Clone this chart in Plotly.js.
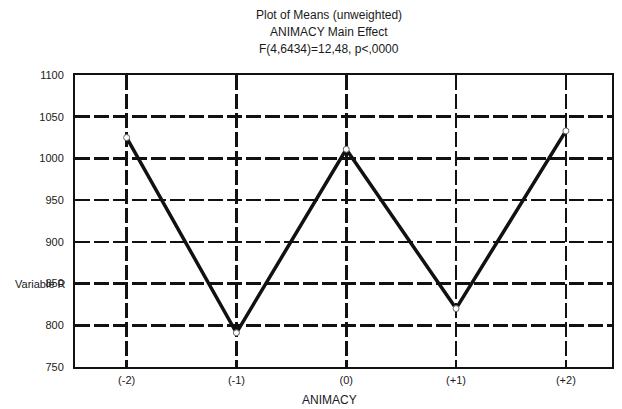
<!DOCTYPE html>
<html>
<head>
<meta charset="utf-8">
<script src="https://cdn.plot.ly/plotly-3.0.1.min.js"></script>
<style>html,body{margin:0;padding:0;background:#fff;}#chart{width:622px;height:409px;}</style>
</head>
<body>
<div id="chart"></div>
<script>
const levels = [-2, -1, 0, 1, 2];
const levelLabels = ["(-2)", "(-1)", "(0)", "(+1)", "(+2)"];
const means = [1025, 791, 1011, 820, 1033];
const yTicks = [750, 800, 850, 900, 950, 1000, 1050, 1100];
const yTickLabels = ["750", "800", "850", "900", "950", "1000", "1050", "1100"];
const titleLines = ["Plot of Means (unweighted)", "ANIMACY Main Effect", "F(4,6434)=12,48, p<,0000"];

const fontFam = "Liberation Sans, Arial, sans-serif";
const txtColor = "#1a1a1a";
const trace = {
  x: levels, y: means, type: "scatter", mode: "lines+markers",
  line: {color: "#111", width: 3.5},
  marker: {symbol: "circle", size: 6, color: "#fff", line: {color: "#666", width: 1}},
  hoverinfo: "skip", showlegend: false
};
const titleY = [1.2055, 1.147, 1.089];
const annotations = titleLines.map((t, i) => ({
  text: t, xref: "paper", yref: "paper", x: 0.473, y: titleY[i],
  xanchor: "center", yanchor: "middle", showarrow: false,
  font: {family: fontFam, size: 12, color: txtColor}
}));
annotations.push({text: "ANIMACY", xref: "paper", yref: "paper", x: 0.473, y: -0.113,
  xanchor: "center", yanchor: "middle", showarrow: false,
  font: {family: fontFam, size: 12, color: txtColor}});
annotations.push({text: "Variable R", xref: "paper", yref: "y", x: -0.115, y: 850,
  xanchor: "left", yanchor: "middle", showarrow: false,
  font: {family: fontFam, size: 11, color: txtColor}});

const layout = {
  width: 622, height: 409,
  margin: {l: 75, r: 10, t: 75, b: 42},
  paper_bgcolor: "#fff", plot_bgcolor: "#fff",
  font: {family: fontFam, size: 11, color: txtColor},
  xaxis: {range: [-2.47, 2.42], tickvals: levels, ticktext: levelLabels,
          showgrid: true, gridcolor: "#111", gridwidth: 2.5, griddash: "15px,4px",
          showline: true, linecolor: "#111", linewidth: 2, mirror: true,
          zeroline: false, ticks: "", tickfont: {size: 11}, ticklabelstandoff: 2},
  yaxis: {range: [750, 1100], tickvals: yTicks, ticktext: yTickLabels,
          showgrid: true, gridcolor: "#111", gridwidth: 2.5, griddash: "15px,4px",
          showline: true, linecolor: "#111", linewidth: 2, mirror: true,
          zeroline: false, ticks: "", tickfont: {size: 11}, ticklabelstandoff: 7},
  annotations: annotations
};
Plotly.newPlot("chart", [trace], layout, {staticPlot: true, displayModeBar: false});
</script>
</body>
</html>
